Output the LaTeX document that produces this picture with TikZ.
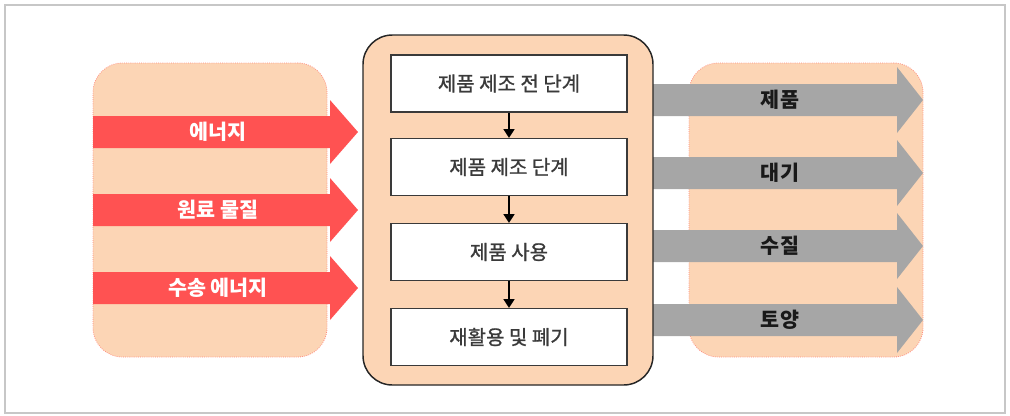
\documentclass[tikz,border=0pt]{standalone}
\usepackage{fontspec}
\setmainfont{Noto Sans CJK KR}
\newfontfamily\stagefont[FakeBold=1]{Noto Sans CJK KR}
\usetikzlibrary{arrows.meta}

\definecolor{peach}{HTML}{FCD5B5}
\definecolor{peachline}{HTML}{FF8C80}
\definecolor{inred}{HTML}{FF5252}
\definecolor{outgray}{HTML}{A6A6A6}
\definecolor{boxtext}{HTML}{3A3A3A}

\tikzset{
	panel/.style={fill=peach, draw=peachline, densely dotted, line width=0.6pt, rounded corners=22pt},
	stagebox/.style={draw=boxtext, fill=white, line width=0.9pt, minimum width=177pt, minimum height=42.75pt, text=boxtext, font=\stagefont\fontsize{15}{17}\selectfont},
	inlabel/.style={text=white, font=\bfseries\fontsize{15.5}{17}\selectfont},
	outlabel/.style={text=black!90, font=\bfseries\fontsize{15.5}{17}\selectfont},
	stepflow/.style={-{Triangle[length=6.5pt, width=8pt]}, line width=1.9pt},
}

\begin{document}
\begin{tikzpicture}[x=0.75pt, y=-0.75pt]
	\useasboundingbox (0,0) rectangle (1010,415);
	% Outer frame
	\draw[black!22, line width=1.5pt] (5,5) rectangle (1005,413);
	
	% Side panels
	\node[panel, minimum width=175.5pt, minimum height=220.5pt] (inputs) at (210,210) {};
	\node[panel, minimum width=175.5pt, minimum height=220.5pt] (outputs) at (806,210) {};
	
	% Input arrows (red)
	\fill[inred] (93,116) -- (330,116) -- (330,100) -- (358,132) -- (330,164) -- (330,148) -- (93,148) -- cycle;
	\fill[inred] (93,194) -- (330,194) -- (330,178) -- (358,210) -- (330,242) -- (330,226) -- (93,226) -- cycle;
	\fill[inred] (93,272) -- (330,272) -- (330,256) -- (358,288) -- (330,320) -- (330,304) -- (93,304) -- cycle;
	\node[inlabel] (energy) at (218,132) {에너지};
	\node[inlabel] (material) at (218,210) {원료 물질};
	\node[inlabel] (transport) at (218,288) {수송 에너지};
	
	% Output arrows (gray)
	\fill[outgray] (653,84) -- (897,84) -- (897,67) -- (923,100) -- (897,133) -- (897,116) -- (653,116) -- cycle;
	\fill[outgray] (653,157) -- (897,157) -- (897,140) -- (923,173) -- (897,206) -- (897,189) -- (653,189) -- cycle;
	\fill[outgray] (653,230) -- (897,230) -- (897,213) -- (923,246) -- (897,279) -- (897,262) -- (653,262) -- cycle;
	\fill[outgray] (653,304) -- (897,304) -- (897,287) -- (923,320) -- (897,353) -- (897,336) -- (653,336) -- cycle;
	\node[outlabel] (product) at (780,100) {제품};
	\node[outlabel] (air) at (780,173) {대기};
	\node[outlabel] (water) at (780,246) {수질};
	\node[outlabel] (soil) at (780,320) {토양};
	
	% Life cycle stages
	\node[fill=peach, draw=black!85, line width=1.1pt, rounded corners=22pt, minimum width=217.5pt, minimum height=262.5pt] (process) at (508,210) {};
	\node[stagebox] (pre) at (509,83.5) {제품 제조 전 단계};
	\node[stagebox] (make) at (509,167) {제품 제조 단계};
	\node[stagebox] (use) at (509,252) {제품 사용};
	\node[stagebox] (waste) at (509,337) {재활용 및 폐기};
	\draw[stepflow] (pre) -- (make);
	\draw[stepflow] (make) -- (use);
	\draw[stepflow] (use) -- (waste);
\end{tikzpicture}
\end{document}
